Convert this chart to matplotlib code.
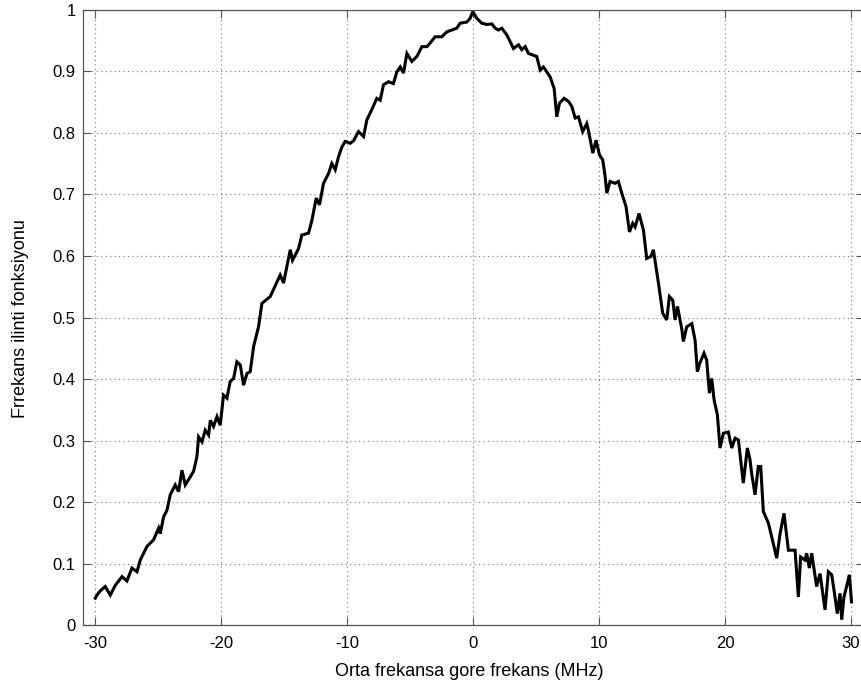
import matplotlib
matplotlib.use("Agg")
import matplotlib.pyplot as plt

# Data
freq_mhz = [
    -30.0, -29.87, -29.6, -29.21, -28.81, -28.41, -27.88, -27.49, -27.09, -26.69,
    -26.43, -25.9, -25.37, -24.97, -24.84, -24.58, -24.31, -24.05, -23.65, -23.39,
    -23.12, -22.86, -22.46, -22.2, -21.93, -21.8, -21.53, -21.27, -21.0, -20.87,
    -20.61, -20.34, -20.08, -19.82, -19.55, -19.29, -19.02, -18.76, -18.49, -18.23,
    -17.96, -17.7, -17.43, -17.04, -16.77, -16.11, -15.32, -15.05, -14.79, -14.52,
    -14.34, -13.86, -13.6, -13.07, -12.8, -12.46, -12.2, -11.88, -11.48, -11.22,
    -10.95, -10.69, -10.42, -10.16, -9.76, -9.5, -9.1, -8.7, -8.44, -8.04,
    -7.65, -7.38, -7.12, -6.72, -6.33, -6.06, -5.79, -5.53, -5.26, -4.87,
    -4.47, -4.07, -3.67, -3.41, -3.02, -2.49, -2.09, -1.69, -1.3, -1.03,
    -0.5, -0.24, -0.03, 0.29, 0.69, 1.09, 1.48, 1.75, 2.0, 2.28,
    2.67, 2.94, 3.2, 3.6, 3.86, 4.13, 4.39, 4.79, 5.05, 5.32,
    5.58, 5.85, 6.11, 6.43, 6.64, 6.85, 7.22, 7.57, 7.83, 8.1,
    8.36, 8.7, 9.02, 9.15, 9.5, 9.76, 10.03, 10.29, 10.48, 10.61,
    10.87, 11.27, 11.53, 11.8, 12.14, 12.41, 12.67, 12.86, 13.17, 13.52,
    13.78, 14.1, 14.31, 14.71, 15.05, 15.37, 15.58, 15.85, 16.03, 16.22,
    16.56, 16.69, 16.96, 17.36, 17.62, 17.8, 18.0, 18.33, 18.54, 18.76,
    18.94, 19.13, 19.39, 19.6, 19.87, 20.26, 20.53, 20.8, 21.06, 21.45,
    21.77, 21.98, 22.11, 22.38, 22.64, 22.83, 23.04, 23.44, 23.7, 24.1,
    24.37, 24.68, 25.03, 25.56, 25.82, 26.0, 26.35, 26.48, 26.69, 26.88,
    27.27, 27.54, 27.94, 28.2, 28.47, 28.73, 28.91, 29.13, 29.26, 29.44,
    29.65, 29.87, 30.04,
]
correlation = [
    0.044, 0.049, 0.056, 0.063, 0.049, 0.065, 0.079, 0.072, 0.093, 0.087,
    0.106, 0.128, 0.139, 0.158, 0.149, 0.176, 0.187, 0.212, 0.228, 0.217,
    0.252, 0.228, 0.241, 0.25, 0.274, 0.306, 0.298, 0.317, 0.309, 0.333,
    0.323, 0.339, 0.325, 0.374, 0.369, 0.396, 0.401, 0.428, 0.423, 0.39,
    0.409, 0.412, 0.453, 0.485, 0.523, 0.534, 0.569, 0.556, 0.583, 0.61,
    0.593, 0.612, 0.634, 0.637, 0.658, 0.694, 0.683, 0.718, 0.734, 0.75,
    0.74, 0.761, 0.777, 0.786, 0.783, 0.787, 0.802, 0.794, 0.821, 0.838,
    0.856, 0.853, 0.878, 0.883, 0.88, 0.899, 0.907, 0.897, 0.929, 0.916,
    0.924, 0.94, 0.94, 0.946, 0.956, 0.956, 0.964, 0.967, 0.97, 0.978,
    0.98, 0.986, 0.997, 0.986, 0.978, 0.976, 0.977, 0.97, 0.967, 0.97,
    0.959, 0.948, 0.937, 0.943, 0.935, 0.94, 0.929, 0.926, 0.924, 0.902,
    0.907, 0.899, 0.891, 0.872, 0.826, 0.848, 0.856, 0.851, 0.843, 0.824,
    0.826, 0.802, 0.815, 0.804, 0.767, 0.788, 0.764, 0.756, 0.729, 0.702,
    0.721, 0.718, 0.721, 0.702, 0.68, 0.639, 0.653, 0.647, 0.669, 0.642,
    0.596, 0.599, 0.61, 0.556, 0.507, 0.496, 0.534, 0.528, 0.496, 0.518,
    0.482, 0.461, 0.485, 0.49, 0.463, 0.412, 0.426, 0.442, 0.431, 0.377,
    0.401, 0.366, 0.342, 0.288, 0.312, 0.314, 0.288, 0.304, 0.301, 0.231,
    0.288, 0.269, 0.247, 0.212, 0.258, 0.258, 0.185, 0.166, 0.144, 0.109,
    0.149, 0.182, 0.122, 0.122, 0.046, 0.111, 0.106, 0.117, 0.093, 0.117,
    0.063, 0.084, 0.025, 0.087, 0.082, 0.046, 0.019, 0.052, 0.009, 0.046,
    0.063, 0.082, 0.038,
]
x_ticks = [-30, -20, -10, 0, 10, 20, 30]
y_ticks = [0, 0.1, 0.2, 0.3, 0.4, 0.5, 0.6, 0.7, 0.8, 0.9, 1]
y_tick_labels = ["0", "0.1", "0.2", "0.3", "0.4", "0.5", "0.6", "0.7", "0.8", "0.9", "1"]
x_label = "Orta frekansa gore frekans (MHz)"
y_label = "Frrekans ilinti fonksiyonu"

plt.rcParams["font.family"] = ["Liberation Sans", "DejaVu Sans"]

fig = plt.figure(figsize=(8.61, 6.93), dpi=100)
ax = fig.add_axes([82.7 / 861, 1 - 625.3 / 693, (863.6 - 82.7) / 861, (625.3 - 9.7) / 693])

ax.plot(freq_mhz, correlation, color="black", linewidth=2.2, solid_joinstyle="miter")

ax.set_xlim(-31, 31)
ax.set_ylim(0, 1)
ax.set_xticks(x_ticks)
ax.set_xticklabels([str(t) for t in x_ticks])
ax.set_yticks(y_ticks)
ax.set_yticklabels(y_tick_labels)

ax.grid(True, linestyle=(0, (1, 3)), color="#777777", linewidth=0.8)
ax.tick_params(direction="in", length=6, width=0.8, color="#555555",
               top=True, right=True, labelsize=12)
ax.tick_params(axis="x", pad=7.5)
ax.tick_params(axis="y", pad=5)
for sp in ax.spines.values():
    sp.set_color("#555555")
    sp.set_linewidth(0.9)

ax.set_xlabel(x_label, fontsize=13)
ax.set_ylabel(y_label, fontsize=13)
ax.xaxis.set_label_coords((469 - 82.7) / 780.9, (625.3 - 671) / 615.6)
ax.xaxis.label.set_va("center")
ax.yaxis.set_label_coords((20 - 82.7) / 780.9, (625.3 - 319) / 615.6)
ax.yaxis.label.set_va("center")

fig.savefig("out.png", dpi=100)
